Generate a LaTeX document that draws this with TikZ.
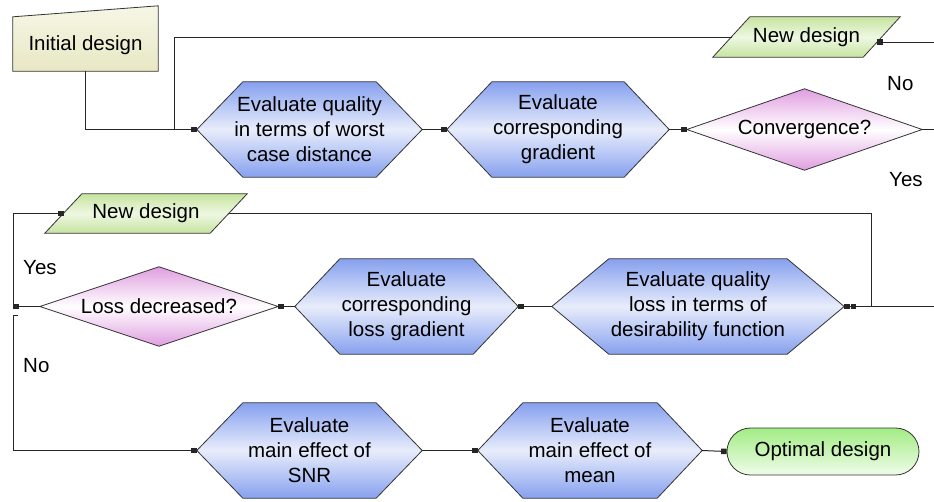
\documentclass[tikz,border=0pt]{standalone}
\usepackage{fontspec}
\setmainfont{Liberation Sans}
\usetikzlibrary{arrows.meta,backgrounds,calc}
\definecolor{hexblue}{HTML}{86A0EE}
\definecolor{hexlight}{HTML}{E8EDFB}
\definecolor{diapink}{HTML}{E09EE0}
\definecolor{initdark}{HTML}{E8E8C4}
\definecolor{initlight}{HTML}{F6F6E6}
\definecolor{ndgreen}{HTML}{C6E4A0}
\definecolor{ndlight}{HTML}{EEF8E2}
\definecolor{optgreen}{HTML}{A2EC84}
\definecolor{optlight}{HTML}{F0FCEA}
\newcommand\fs{\fontsize{20.5}{25}\selectfont}
\tikzset{
  base/.style={draw=none, inner sep=0pt, font=\fs, align=center},
  outline/.style={draw=black!80, line width=0.8pt},
  hexfill/.style={outline, top color=hexblue, bottom color=hexblue, middle color=hexlight},
  diafill/.style={outline, top color=diapink, bottom color=diapink, middle color=white},
  ndfill/.style={outline, top color=ndgreen, bottom color=ndgreen, middle color=ndlight},
  initfill/.style={outline, top color=initlight, bottom color=initdark},
  conn/.style={draw=black!85, line width=1pt},
  arr/.style={conn, -{Square[length=5.5pt,width=5.5pt]}},
  arrtwo/.style={conn, -{Square[length=5.5pt,width=5.5pt,sep=1pt]Square[length=5.5pt,width=5.5pt]}},
  lbl/.style={font=\fs, inner sep=0pt, anchor=west},
}
\newcommand\hexshape[2]{%
  \path[hexfill] (#1.west) -- ([xshift=#2]#1.north west) -- ([xshift=-#2]#1.north east)
    -- (#1.east) -- ([xshift=-#2]#1.south east) -- ([xshift=#2]#1.south west) -- cycle;}
\newcommand\diashape[1]{%
  \path[diafill] (#1.west) -- (#1.north) -- (#1.east) -- (#1.south) -- cycle;}
\newcommand\parashape[2]{%
  \path[ndfill] (#1.south west) -- ([xshift=#2]#1.north west) -- (#1.north east)
    -- ([xshift=-#2]#1.south east) -- cycle;}
\begin{document}
\begin{tikzpicture}[x=1pt,y=-1pt]
\useasboundingbox (0,0) rectangle (934,501);
\clip (0,0) rectangle (934,501);

% nodes
\node[base, minimum width=145pt, minimum height=52pt] (init) at (85.5,45) {Initial design};
\node[base, minimum width=225pt, minimum height=95pt] (hex1) at (309.5,129.5) {Evaluate quality\\in terms of worst\\case distance};
\node[base, minimum width=222pt, minimum height=95pt] (hex2) at (558,129.5) {Evaluate\\corresponding\\gradient};
\node[base, minimum width=235pt, minimum height=81pt] (conv) at (804.5,129.5) {Convergence?};
\node[base, minimum width=187pt, minimum height=40pt] (newd1) at (806.5,37) {New design};
\node[base, minimum width=202pt, minimum height=39pt] (newd2) at (146,213.5) {New design};
\node[base, minimum width=238pt, minimum height=79pt] (loss) at (159,306.5) {Loss decreased?};
\node[base, minimum width=223pt, minimum height=95pt] (hex4) at (406.5,306.5) {Evaluate\\corresponding\\loss gradient};
\node[base, minimum width=292pt, minimum height=95pt] (hex3) at (698,306.5) {Evaluate quality\\loss in terms of\\desirability function};
\node[base, minimum width=225pt, minimum height=95pt] (hex5) at (309.5,450.5) {Evaluate\\main effect of\\SNR};
\node[base, minimum width=224pt, minimum height=95pt] (hex6) at (590,450.5) {Evaluate\\main effect of\\mean};
\node[base, outline, rounded corners=23.5pt, top color=optgreen, bottom color=optlight,
      minimum width=192pt, minimum height=47pt] (opt) at (823,451.5) {Optimal design};

% shapes behind text
\begin{scope}[on background layer]
  \path[initfill] (init.south west) -- ([yshift=2pt]init.north west)
     -- ([yshift=13pt]init.north east) -- (init.south east) -- cycle;
  \hexshape{hex1}{46pt}
  \hexshape{hex2}{45pt}
  \hexshape{hex4}{45pt}
  \hexshape{hex3}{57pt}
  \hexshape{hex5}{46pt}
  \hexshape{hex6}{45pt}
  \diashape{conv}
  \diashape{loss}
  \parashape{newd1}{37pt}
  \parashape{newd2}{37pt}
\end{scope}

% labels
\node[lbl] (no1) at (887,84) {No};
\node[lbl] (yes1) at (889,180) {Yes};
\node[lbl] (yes2) at (23,268) {Yes};
\node[lbl] (no2) at (23,366) {No};

% junction coordinates
\coordinate (j1) at (174,129.5);
\coordinate (nd1l) at (731.5,37);
\coordinate (nd1r) at (877,42);
\coordinate (r1) at (950,129.5);
\coordinate (r2) at (950,42);
\coordinate (jl) at (13,306.5);
\coordinate (nd2l) at (63.5,213.5);
\coordinate (nd2r) at (228.5,213.5);
\coordinate (jr) at (871,306.5);
\coordinate (ns) at (18,315);
\coordinate (jn) at (13,315);

% connectors
\draw[arr] (init.south) |- (hex1.west);
\draw[conn] (nd1l) -| (j1);
\draw[arr] (hex1.east) -- (hex2.west);
\draw[arr] (hex2.east) -- (conv.west);
\draw[conn] (conv.east) -- (r1);
\draw[arr] (r1) -- (r2) -- (nd1r);
\draw[arrtwo] (r1) |- (hex3.east);
\draw[conn] (nd2r) -| (jr);
\draw[arr] (hex3.west) -- (hex4.east);
\draw[arr] (hex4.west) -- (loss.east);
\draw[arr] (loss.west) -- (jl);
\draw[arr] (jl) |- (nd2l);
\draw[conn] (ns) -- (jn);
\draw[arr] (jn) |- (hex5.west);
\draw[arr] (hex5.east) -- (hex6.west);
\draw[arr] (hex6.east) -- (opt.west);
\end{tikzpicture}
\end{document}
